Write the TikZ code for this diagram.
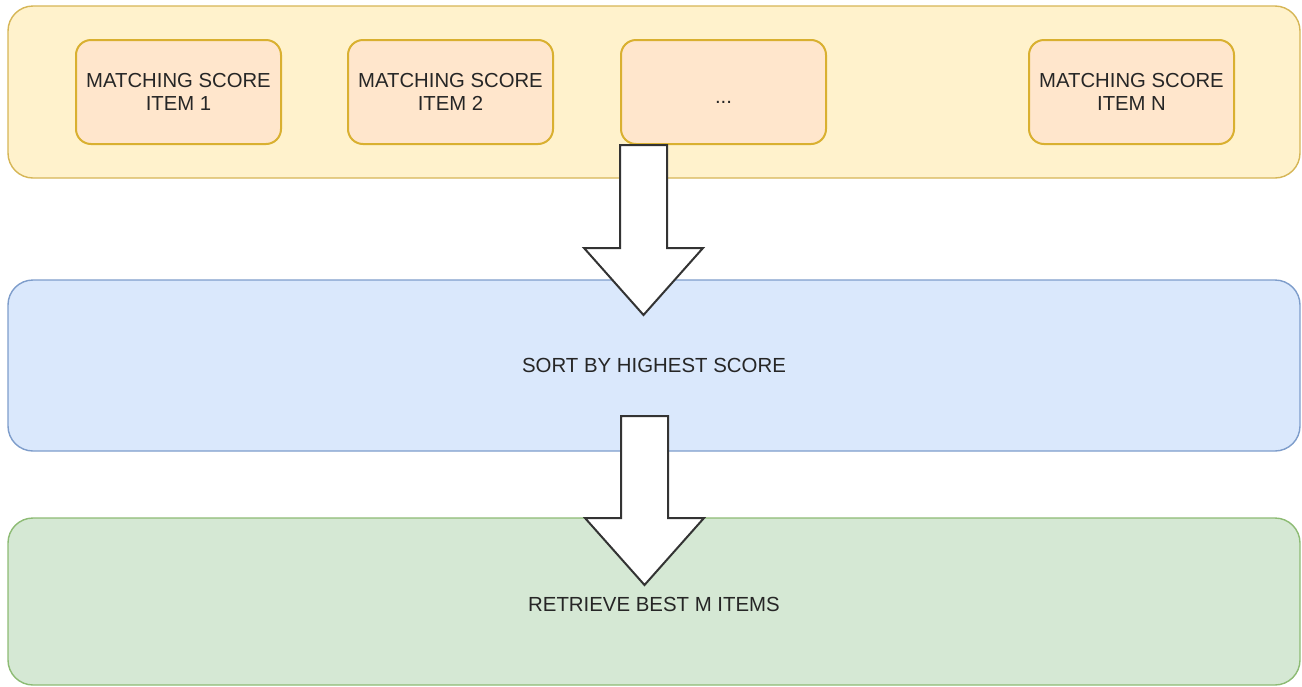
\documentclass[tikz,border=0pt]{standalone}
\usepackage{fontspec}
\setmainfont{Liberation Sans}
\usetikzlibrary{calc}
\definecolor{panelYellowFill}{HTML}{FFF2CC}
\definecolor{panelYellowLine}{HTML}{D6B656}
\definecolor{itemFill}{HTML}{FFE6CC}
\definecolor{itemLine}{HTML}{D9B030}
\definecolor{panelBlueFill}{HTML}{DAE8FC}
\definecolor{panelBlueLine}{HTML}{7E9DCB}
\definecolor{panelGreenFill}{HTML}{D5E8D4}
\definecolor{panelGreenLine}{HTML}{8DBB74}
\definecolor{labelInk}{HTML}{262626}
\definecolor{arrowInk}{HTML}{333333}
\tikzset{
  panel/.style={rectangle, rounded corners=25pt, line width=1.4pt,
    minimum width=1292pt, inner sep=0pt, text=labelInk,
    font=\fontsize{20.4}{23}\selectfont},
  itembox/.style={rectangle, rounded corners=15pt, line width=2pt,
    draw=itemLine, fill=itemFill, minimum width=205pt, minimum height=104pt,
    inner sep=0pt, align=center, text=labelInk,
    font=\fontsize{20.3}{23}\selectfont},
  blockarrow/.style={draw=arrowInk, fill=white, line width=2pt, line join=miter}
}
\begin{document}
\begin{tikzpicture}[x=1pt,y=-1pt]
\useasboundingbox (0,0) rectangle (1302,686);
% three stage panels
\node[panel, draw=panelYellowLine, fill=panelYellowFill, minimum height=172pt] (scores) at (654,92) {};
\node[panel, draw=panelBlueLine, fill=panelBlueFill, minimum height=171pt] (sort) at (654,365.5) {SORT BY HIGHEST SCORE};
\node[panel, draw=panelGreenLine, fill=panelGreenFill, minimum height=167pt] (best) at (654,601.5) {};
\node[text=labelInk, font=\fontsize{20.4}{23}\selectfont] (bestlabel) at (654,604) {RETRIEVE BEST M ITEMS};
% per-item scores
\node[itembox] (item1) at (178.5,92) {MATCHING SCORE\\ITEM 1};
\node[itembox] (item2) at (450.5,92) {MATCHING SCORE\\ITEM 2};
\node[itembox] (dots) at (723.5,92) {\raisebox{-11pt}[0pt][0pt]{...}};
\node[itembox] (itemN) at (1131.5,92) {MATCHING SCORE\\ITEM N};
% block arrows between the stages
\coordinate (a1top) at (dots.south west);
\coordinate (a2top) at (621,416);
\draw[blockarrow] (a1top) -- ++(47,0) -- ++(0,103) -- ++(36,0) -- ++(-59.5,67)
  -- ++(-59.5,-67) -- ++(36,0) -- cycle;
\draw[blockarrow] (a2top) -- ++(47,0) -- ++(0,102) -- ++(36,0) -- ++(-59.5,67)
  -- ++(-59.5,-67) -- ++(36,0) -- cycle;
\end{tikzpicture}
\end{document}
